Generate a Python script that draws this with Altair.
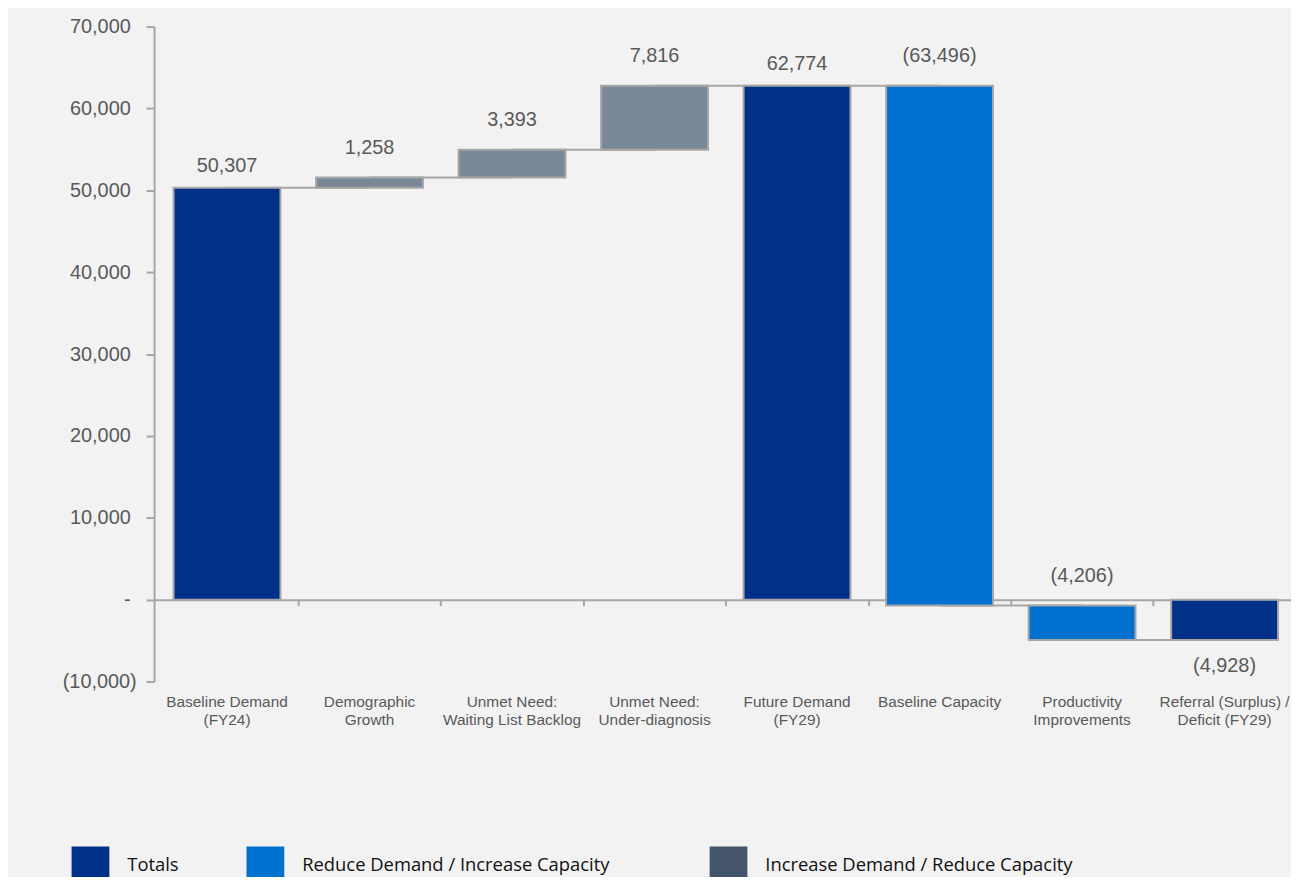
import altair as alt
import pandas as pd

# ---------------- data ----------------
categories = [
    "Baseline Demand|(FY24)",
    "Demographic|Growth",
    "Unmet Need:|Waiting List Backlog",
    "Unmet Need:|Under-diagnosis",
    "Future Demand|(FY29)",
    "Baseline Capacity",
    "Productivity|Improvements",
    "Referral (Surplus) /|Deficit (FY29)",
]
values = [50307, 1258, 3393, 7816, 62774, -63496, -4206, -4928]
kinds = ["Totals", "Increase", "Increase", "Increase", "Totals", "Reduce", "Reduce", "Totals"]
y_ticks_pos = [0, 10000, 20000, 30000, 40000, 50000, 60000, 70000]
y_ticks_neg = [-10000]
legend_names = ["Totals", "Reduce Demand / Increase Capacity", "Increase Demand / Reduce Capacity"]
legend_colors = ["#003087", "#0071ce", "#44546a"]

# running totals for the waterfall
starts, ends = [], []
running = 0
for v, k in zip(values, kinds):
    if k == "Totals":
        s, e = 0, v
    else:
        s, e = running, running + v
    running = e
    starts.append(s)
    ends.append(e)


def acct(v):
    return f"({abs(v):,})" if v < 0 else f"{v:,}"


bars = pd.DataFrame({
    "cat": categories,
    "value": values,
    "kind": kinds,
    "start": starts,
    "end": ends,
    "top": [max(a, b) for a, b in zip(starts, ends)],
    "bottom": [min(a, b) for a, b in zip(starts, ends)],
    "label": [acct(v) for v in values],
})
connectors = pd.DataFrame({
    "from": categories[:-1],
    "to": categories[1:],
    "level": ends[:-1],
})

# ---------------- styles ----------------
GRAY_LINE = "#a6a6a6"
TEXT = "#595959"
FONT = "Liberation Sans"
W, H = 1144, 659
P_IN, P_OUT, ALIGN = 0.25, 0.114, 0.6
STEP = W / (len(categories) - P_IN + 2 * P_OUT)

xscale = alt.Scale(type="band", domain=categories, paddingInner=P_IN, paddingOuter=P_OUT, align=ALIGN)
yscale = alt.Scale(domain=[-10000, 70000], nice=False, zero=False)

label_expr = "datum.value == 0 ? '-' : datum.value < 0 ? '(' + format(-datum.value, ',') + ')' : format(datum.value, ',')"
y_axis_common = dict(orient="left", title=None, grid=False, labelExpr=label_expr,
                     tickColor=GRAY_LINE, tickWidth=2, tickSize=8,
                     labelFont=FONT, labelFontSize=20, labelColor=TEXT)
y_axis = alt.Axis(values=y_ticks_pos, domainColor=GRAY_LINE, domainWidth=2,
                  labelPadding=16, **y_axis_common)
y_axis_neg = alt.Axis(values=y_ticks_neg, domain=False, labelPadding=10, **y_axis_common)

x_label_axis = alt.Axis(
    orient="bottom", title=None, labelExpr="split(datum.label, '|')", labelAngle=0,
    labelFont=FONT, labelFontSize=15.5, labelColor=TEXT, labelLineHeight=18,
    labelPadding=13, labelLimit=400, ticks=False, tickSize=0, domain=False, grid=False,
)
# zero line with ticks midway between bars
x_zero_axis = alt.Axis(
    orient="bottom", title=None, offset=-H * 10000 / 80000, labels=False,
    ticks=True, tickOffset=STEP / 2, tickSize=6, tickColor=GRAY_LINE, tickWidth=2,
    domain=True, domainColor=GRAY_LINE, domainWidth=2, grid=False,
)

conn = alt.Chart(connectors).mark_rule(color=GRAY_LINE, strokeWidth=2).encode(
    x=alt.X("from:N", scale=xscale, axis=None),
    x2="to:N",
    y=alt.Y("level:Q", scale=yscale, axis=None),
)

bar = alt.Chart(bars).mark_bar(stroke=GRAY_LINE, strokeWidth=2).encode(
    x=alt.X("cat:N", scale=xscale, axis=x_label_axis, sort=categories),
    y=alt.Y("start:Q", scale=yscale, axis=y_axis),
    y2="end:Q",
    fill=alt.Fill("kind:N", scale=alt.Scale(domain=["Totals", "Increase", "Reduce"],
                                            range=["#003087", "#788896", "#0071ce"]), legend=None),
)

zero_axis_layer = alt.Chart(bars).mark_bar(opacity=0).encode(
    x=alt.X("cat:N", scale=xscale, axis=x_zero_axis, sort=categories),
    y=alt.Y("start:Q", scale=yscale, axis=y_axis_neg),
    y2="end:Q",
)

txt_props = dict(font=FONT, fontSize=20, color=TEXT, baseline="middle")
txt_tot = alt.Chart(bars).transform_filter("datum.kind == 'Totals' && datum.value > 0").mark_text(dy=-22, **txt_props).encode(
    x=alt.X("cat:N", scale=xscale, axis=None), y=alt.Y("top:Q", scale=yscale, axis=None), text="label:N")
txt_delta = alt.Chart(bars).transform_filter("datum.kind != 'Totals'").mark_text(dy=-30, **txt_props).encode(
    x=alt.X("cat:N", scale=xscale, axis=None), y=alt.Y("top:Q", scale=yscale, axis=None), text="label:N")
txt_neg = alt.Chart(bars).transform_filter("datum.kind == 'Totals' && datum.value < 0").mark_text(dy=26, **txt_props).encode(
    x=alt.X("cat:N", scale=xscale, axis=None), y=alt.Y("bottom:Q", scale=yscale, axis=None), text="label:N")

# one legend per entry so each can sit where the reference has it
legend_x = [-83, 93, 559]
legend_layers = []
for name, col, lx in zip(legend_names, legend_colors, legend_x):
    legend_layers.append(
        alt.Chart(pd.DataFrame({"name": [name]})).mark_square(opacity=0, filled=True).encode(
            color=alt.Color("name:N", scale=alt.Scale(domain=[name], range=[col]),
                            legend=alt.Legend(orient="none", legendX=lx, legendY=825,
                                              direction="horizontal", title=None,
                                              symbolType="square", symbolSize=1444, symbolOpacity=1,
                                              symbolStrokeWidth=0, labelFont="Open Sans",
                                              labelFontSize=18.5, labelColor="#111111",
                                              labelOffset=18, labelLimit=500, padding=0))
        )
    )

chart = alt.layer(conn, bar, zero_axis_layer, txt_tot, txt_delta, txt_neg, *legend_layers).resolve_scale(
    x="independent", y="independent", fill="independent", color="independent"
).properties(
    width=W, height=H,
    padding={"left": 147, "top": 16, "right": 0, "bottom": 194},
    autosize=alt.AutoSizeParams(type="none"),
    background="#f2f2f2",
).configure_view(stroke=None)

chart.save("out.html", embed_options={"renderer": "svg", "actions": False})
